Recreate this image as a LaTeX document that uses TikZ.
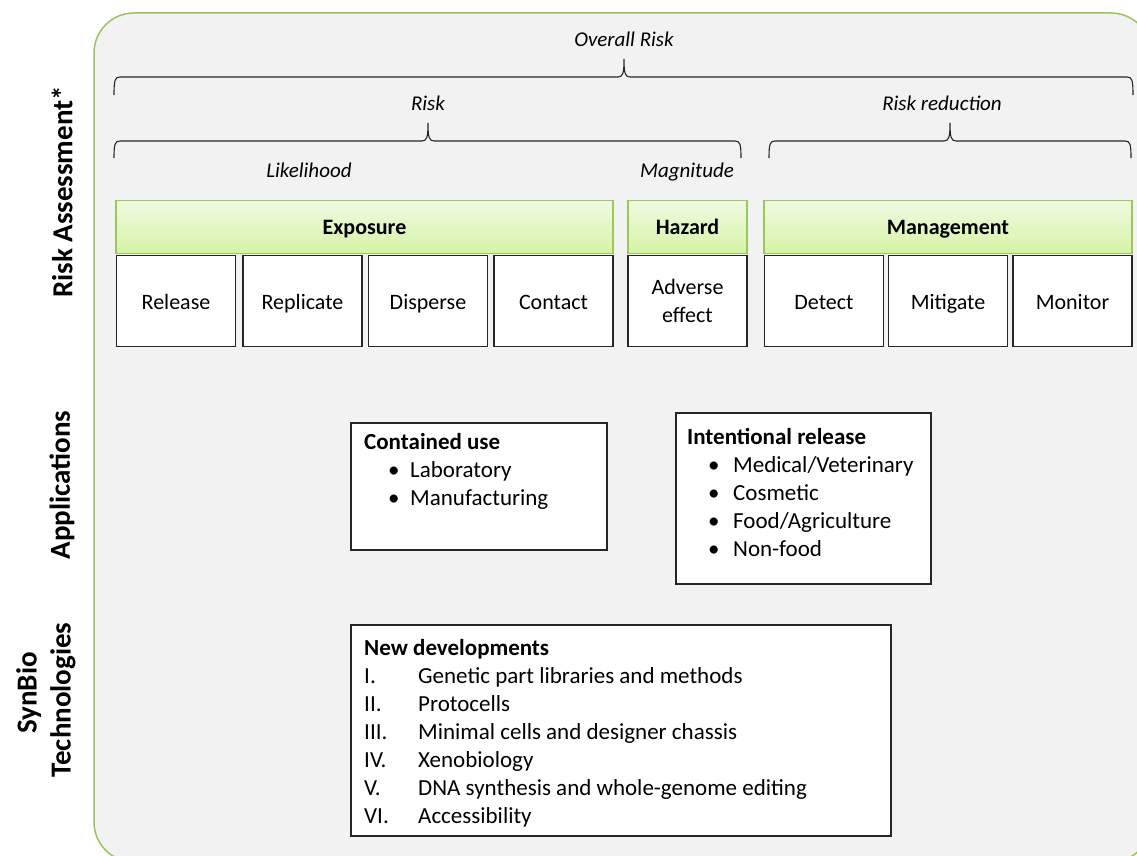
\documentclass[tikz,border=0pt]{standalone}
\usepackage{fontspec}
\setmainfont{Carlito}
\definecolor{bggray}{RGB}{242,242,242}
\definecolor{bgline}{RGB}{155,195,95}
\definecolor{hdrline}{RGB}{155,200,90}
\definecolor{hdrtop}{RGB}{240,250,226}
\definecolor{hdrbot}{RGB}{214,243,165}
\begin{document}
\begin{tikzpicture}[x=1pt,y=-1pt,
  hdr/.style={draw=hdrline, line width=1.2pt, top color=hdrtop, bottom color=hdrbot, font=\bfseries\fontsize{22}{26}\selectfont, inner sep=0pt, minimum height=52.6pt, text height=17pt, text depth=3pt},
  subbox/.style={draw=black!85, fill=white, line width=1.1pt, font=\fontsize{22}{28}\selectfont, inner sep=0pt, minimum width=119pt, minimum height=91.4pt, align=center},
  one/.style={text height=18pt, text depth=2pt},
  lbl/.style={font=\itshape\fontsize{21}{24}\selectfont, inner sep=0pt, text height=14pt, text depth=4pt},
  side/.style={font=\bfseries\fontsize{29}{34}\selectfont, rotate=90, inner sep=0pt, align=center},
  listbox/.style={draw=black!85, fill=white, line width=1.1pt, inner sep=0pt},
  listtxt/.style={font=\fontsize{23}{28}\selectfont, inner sep=0pt, align=left, anchor=north west},
  brace/.style={line width=1.1pt, draw=black!85}
]
\useasboundingbox (0,0) rectangle (1137,856);
\begin{scope}
\clip (0,0) rectangle (1137,856);
\draw[fill=bggray, draw=bgline, line width=1.5pt, rounded corners=40pt] (94,13) rectangle (1151,862);
\end{scope}

% side labels
\node[side] (sra) at (62,192) {Risk Assessment*};
\node[side] (sap) at (62,485) {Applications};
\node[side] (ssb) at (46,700) {\hspace*{14pt}SynBio\\Technologies};

% braces
\draw[brace] (114,95) .. controls (114,80) and (115,77) .. (120,77) -- (618,77) .. controls (623,77) and (624,73) .. (624,59) .. controls (624,73) and (625,77) .. (630,77) -- (1127,77) .. controls (1132,77) and (1133,80) .. (1133,95);
\draw[brace] (114,158) .. controls (114,144) and (115,141) .. (120,141) -- (422,141) .. controls (427,141) and (428,137) .. (428,123) .. controls (428,137) and (429,141) .. (434,141) -- (735,141) .. controls (740,141) and (741,144) .. (741,158);
\draw[brace] (769,158) .. controls (769,144) and (770,141) .. (775,141) -- (944,141) .. controls (949,141) and (950,137) .. (950,123) .. controls (950,137) and (951,141) .. (956,141) -- (1125,141) .. controls (1130,141) and (1131,144) .. (1131,158);

% brace labels
\node[lbl] (lor) at (624,42) {Overall Risk};
\node[lbl] (lrk) at (428,106) {Risk};
\node[lbl] (lrr) at (942,106) {Risk reduction};
\node[lbl] (llk) at (309,172) {Likelihood};
\node[lbl] (lmg) at (687,172) {Magnitude};

% headers
\node[hdr, minimum width=497pt] (hexp) at (364.5,227) {Exposure};
\node[hdr, minimum width=119pt] (hhaz) at (687.5,227) {Hazard};
\node[hdr, minimum width=368pt] (hman) at (948,227) {Management};

% sub boxes
\node[subbox, one] (rel) at (176,301) {Release};
\node[subbox, one] (rep) at (302.5,301) {Replicate};
\node[subbox, one] (dis) at (428,301) {Disperse};
\node[subbox, one] (con) at (553.5,301) {Contact};
\node[subbox] (adv) at (687.5,301) {Adverse\\effect};
\node[subbox, one] (det) at (824,301) {Detect};
\node[subbox, one] (mit) at (948,301) {Mitigate};
\node[subbox, one] (mon) at (1072.5,301) {Monitor};

% applications
\node[listbox, minimum width=256pt, minimum height=127pt] (cbox) at (479,486.5) {};
\node[listtxt] (ctxt) at (364,433) {\textbf{Contained use}\\
\hspace*{24pt}\makebox[22pt][l]{\textbullet}Laboratory\\
\hspace*{24pt}\makebox[22pt][l]{\textbullet}Manufacturing};

\node[listbox, minimum width=255pt, minimum height=171pt] (ibox) at (803.5,498.5) {};
\node[listtxt] (itxt) at (687,428) {\textbf{Intentional release}\\
\hspace*{21pt}\makebox[25pt][l]{\textbullet}Medical/Veterinary\\
\hspace*{21pt}\makebox[25pt][l]{\textbullet}Cosmetic\\
\hspace*{21pt}\makebox[25pt][l]{\textbullet}Food/Agriculture\\
\hspace*{21pt}\makebox[25pt][l]{\textbullet}Non-food};

% technologies
\node[listbox, minimum width=540pt, minimum height=211pt] (nbox) at (621,730.5) {};
\node[listtxt] (ntxt) at (364,639) {\textbf{New developments}\\
\makebox[54pt][l]{I.}Genetic part libraries and methods\\
\makebox[54pt][l]{II.}Protocells\\
\makebox[54pt][l]{III.}Minimal cells and designer chassis\\
\makebox[54pt][l]{IV.}Xenobiology\\
\makebox[54pt][l]{V.}DNA synthesis and whole-genome editing\\
\makebox[54pt][l]{VI.}Accessibility};
\end{tikzpicture}
\end{document}
